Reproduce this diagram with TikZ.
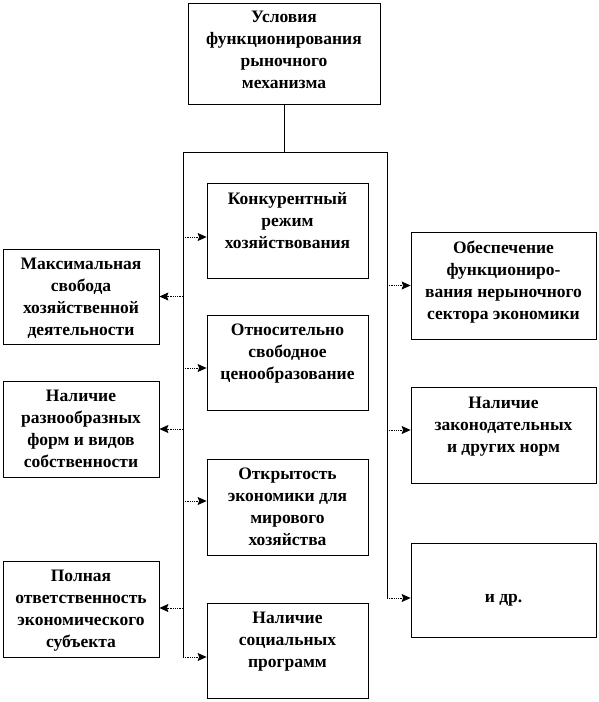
\documentclass[tikz,border=0pt]{standalone}
\usepackage{fontspec}
\setmainfont{Liberation Serif}
\usetikzlibrary{arrows.meta}
\tikzset{
  box/.style={draw=black, line width=0.8pt, inner sep=0pt, rectangle},
  txt/.style={font=\bfseries\fontsize{17.5}{22}\selectfont, align=center, inner sep=0pt, anchor=north,
    execute at begin node={\rule{0pt}{13pt}}},
  trunk/.style={line width=0.9pt, black},
  arr/.style={densely dotted, line width=0.8pt, -{Stealth[length=9pt,width=8pt,inset=1.5pt]}}
}
\begin{document}
\begin{tikzpicture}[x=1pt,y=-1pt]
\useasboundingbox (0,0) rectangle (599,702);
% top
\node[box, minimum width=192pt, minimum height=101pt] (top) at (284,53.5) {};
\node[txt] (topT) at (284,11) {Условия\\функционирования\\рыночного\\механизма};
% middle
\node[box, minimum width=161pt, minimum height=95pt] (m1) at (287.5,230.5) {};
\node[txt] (m1T) at (287.5,192) {Конкурентный\\режим\\хозяйствования};
\node[box, minimum width=161pt, minimum height=95pt] (m2) at (287.5,362.5) {};
\node[txt] (m2T) at (287.5,324) {Относительно\\свободное\\ценообразование};
\node[box, minimum width=161pt, minimum height=96pt] (m3) at (287.5,507) {};
\node[txt] (m3T) at (287.5,468) {Открытость\\экономики для\\мирового\\хозяйства};
\node[box, minimum width=161pt, minimum height=95pt] (m4) at (287.5,650.5) {};
\node[txt] (m4T) at (287.5,612) {Наличие\\социальных\\программ};
% left
\node[box, minimum width=156pt, minimum height=95pt] (l1) at (81,296.5) {};
\node[txt] (l1T) at (81,258) {Максимальная\\свобода\\хозяйственной\\деятельности};
\node[box, minimum width=156pt, minimum height=96pt] (l2) at (81,429) {};
\node[txt] (l2T) at (81,390) {Наличие\\разнообразных\\форм и видов\\собственности};
\node[box, minimum width=156pt, minimum height=96pt] (l3) at (81,609) {};
\node[txt] (l3T) at (81,570) {Полная\\ответственность\\экономического\\субъекта};
% right
\node[box, minimum width=185pt, minimum height=107pt] (r1) at (503.5,285.5) {};
\node[txt] (r1T) at (503.5,241) {Обеспечение\\функциониро-\\вания нерыночного\\сектора экономики};
\node[box, minimum width=185pt, minimum height=96pt] (r2) at (503.5,435) {};
\node[txt] (r2T) at (503.5,397) {Наличие\\законодательных\\и других норм};
\node[box, minimum width=185pt, minimum height=94pt] (r3) at (503.5,590) {};
\node[txt] (r3T) at (503.5,589) {и др.};
% trunk
\coordinate (hL) at (183,152);
\coordinate (hR) at (387,152);
\coordinate (hM) at (top.south |- hL);
\coordinate (vL) at (183,657);
\coordinate (vR) at (387,598);
\draw[trunk] (top.south) -- (hM);
\draw[trunk] (vL) -- (hL) -- (hR) -- (vR);
% branch points
\coordinate (a1) at (183,237);
\coordinate (a2) at (183,368);
\coordinate (a3) at (183,501);
\coordinate (a4) at (183,657);
\coordinate (b1) at (183,296.5);
\coordinate (b2) at (183,429);
\coordinate (b3) at (183,608);
\coordinate (c1) at (387,285.5);
\coordinate (c2) at (387,430);
\coordinate (c3) at (387,598);
\draw[arr] (a1) -- (m1.west |- a1);
\draw[arr] (a2) -- (m2.west |- a2);
\draw[arr] (a3) -- (m3.west |- a3);
\draw[arr] (a4) -- (m4.west |- a4);
\draw[arr] (b1) -- (l1.east |- b1);
\draw[arr] (b2) -- (l2.east |- b2);
\draw[arr] (b3) -- (l3.east |- b3);
\draw[arr] (c1) -- (r1.west |- c1);
\draw[arr] (c2) -- (r2.west |- c2);
\draw[arr] (c3) -- (r3.west |- c3);
\end{tikzpicture}
\end{document}
